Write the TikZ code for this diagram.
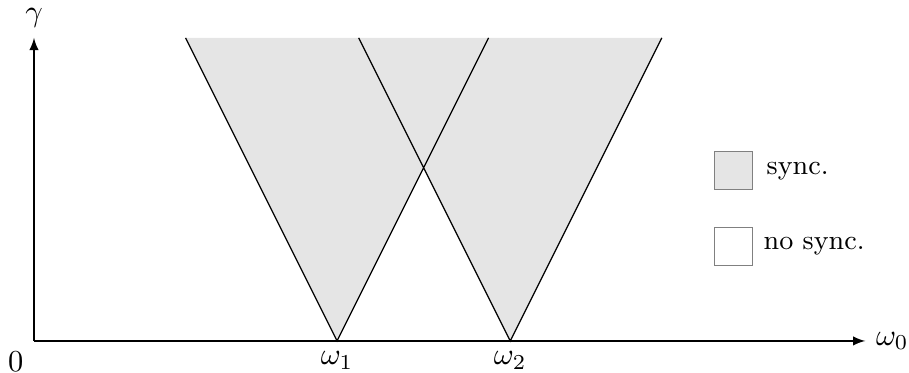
\documentclass[tikz,border=0pt]{standalone}
\usetikzlibrary{positioning}
\tikzset{legbox/.style={draw=gray,minimum size=0.44cm,inner sep=0pt}}
\begin{document}
\begin{tikzpicture}[>=latex,x=0.5cm,y=0.5cm,scale=1]
		\useasboundingbox (-0.785,-0.74) rectangle (20.21,7.875);
		\coordinate (O) at (0,0);
		\coordinate (X) at (19.2,0);
		\coordinate (Y) at (0,7);
		\coordinate (A) at (7,0);
		\coordinate (B) at (11,0);
		\coordinate (A1) at (3.5,7);
		\coordinate (A2) at (10.5,7);
		\coordinate (B1) at (7.5,7);
		\coordinate (B2) at (14.5,7);
		\fill[gray!20] (A)--(A1)--(A2)--cycle (B)--(B1)--(B2)--cycle;
		\draw (A1)--(A)--(A2) (B1)--(B)--(B2);
		\draw[->] (O)--(X) node[right] (w0) {$\omega_0$};
		\draw[->] (O)--(Y) node[above] (g) {$\gamma$};
		\node[below left] (zero) at (O) {$0$};
		\node[below] (w1) at (A) {$\omega_1$};
		\node[below] (w2) at (B) {$\omega_2$};
		% legend
		\node[legbox,fill=gray!20] (sbox) at (16.15,3.93) {};
		\node[legbox,fill=white] (nbox) at (16.15,2.18) {};
		\node[right=1pt of sbox,font=\small] (stext) {sync.};
		\node[right=0pt of nbox,font=\small] (ntext) {no sync.};
\end{tikzpicture}
\end{document}
